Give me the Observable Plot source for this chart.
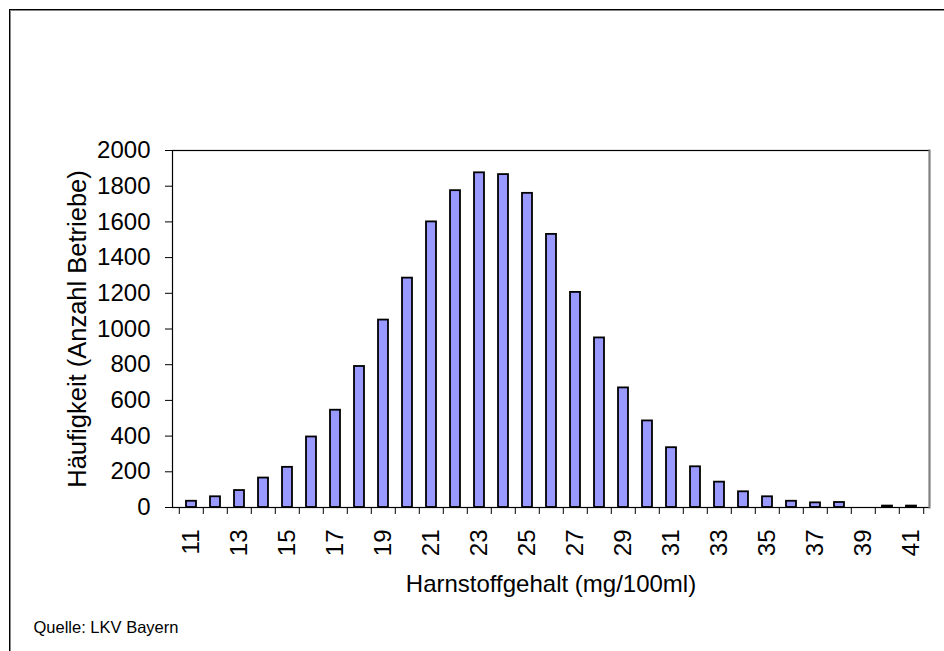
<!DOCTYPE html>
<html>
<head>
<meta charset="utf-8">
<script src="https://cdn.jsdelivr.net/npm/d3@7"></script>
<script src="https://cdn.jsdelivr.net/npm/@observablehq/plot@0.6"></script>
<style>
  html, body { margin: 0; padding: 0; background: #fff; }
  #wrap { position: relative; width: 944px; height: 651px; overflow: hidden; }
  #border { position: absolute; left: 9px; top: 9px; width: 2000px; height: 2000px;
            border-left: 1px solid #000; border-top: 1px solid #000;
            box-shadow: inset 1px 1px 0 #888; }
  #chart { position: absolute; left: 0; top: 0; }
</style>
</head>
<body>
<div id="wrap"><div id="border"></div><div id="chart"></div></div>
<script>
const categories = [11,12,13,14,15,16,17,18,19,20,21,22,23,24,25,26,27,28,29,30,31,32,33,34,35,36,37,38,39,40,41];
const counts = [35,60,95,165,225,395,545,790,1050,1285,1600,1775,1875,1865,1760,1530,1205,950,670,485,335,228,142,88,60,35,26,28,0,8,8];
const yTicks = [0,200,400,600,800,1000,1200,1400,1600,1800,2000];
const xLabelTicks = [11,13,15,17,19,21,23,25,27,29,31,33,35,37,39,41];
const xTitle = "Harnstoffgehalt (mg/100ml)";
const yTitle = "Häufigkeit (Anzahl Betriebe)";
const caption = "Quelle: LKV Bayern";

const data = categories.map((k, i) => ({k, n: counts[i]}));

const W = 944, H = 651, ml = 172, mr = 15, mt = 150, mb = 144;
const step = (W - ml - mr) / categories.length;

const chart = Plot.plot({
  width: W, height: H,
  marginLeft: ml, marginRight: mr, marginTop: mt, marginBottom: mb,
  style: {fontFamily: "'Liberation Sans', Arial, sans-serif", fontSize: "24px", background: "transparent", overflow: "visible"},
  x: {type: "band", domain: categories, paddingInner: 0.6, paddingOuter: 0.3},
  y: {domain: [0, 2000]},
  marks: [
    Plot.barY(data, {x: "k", y: "n", fill: "#9999FF", stroke: "black", strokeWidth: 1.8}),
    Plot.frame({stroke: "black", strokeWidth: 1.2}),
    Plot.frame({anchor: "right", stroke: "#808080", strokeWidth: 2}),
    Plot.axisY({ticks: yTicks, tickSize: 7, tickPadding: 15, fontSize: 24, tickFormat: d => String(d), label: null, stroke: "black"}),
    Plot.axisX({ticks: categories, tickSize: 7, tickFormat: () => "", dx: -step / 2, label: null, stroke: "black"}),
    Plot.axisX({ticks: [categories[categories.length - 1]], tickSize: 7, tickFormat: () => "", dx: step / 2, label: null, stroke: "black"}),
    Plot.axisX({ticks: xLabelTicks, tickSize: 0, tickPadding: 22, tickRotate: -90, fontSize: 24, label: null}),
    Plot.text([xTitle], {frameAnchor: "bottom", lineAnchor: "bottom", dy: 84, fontSize: 24, fill: "black"}),
    Plot.text([yTitle], {frameAnchor: "left", textAnchor: "middle", lineAnchor: "bottom", rotate: -90, dx: -87, fontSize: 25.5, fill: "black"}),
    Plot.text([caption], {frameAnchor: "bottom-left", textAnchor: "start", lineAnchor: "bottom", dx: -139, dy: 125, fontSize: 16.5, fill: "black"})
  ]
});
document.getElementById("chart").appendChild(chart);
</script>
</body>
</html>
